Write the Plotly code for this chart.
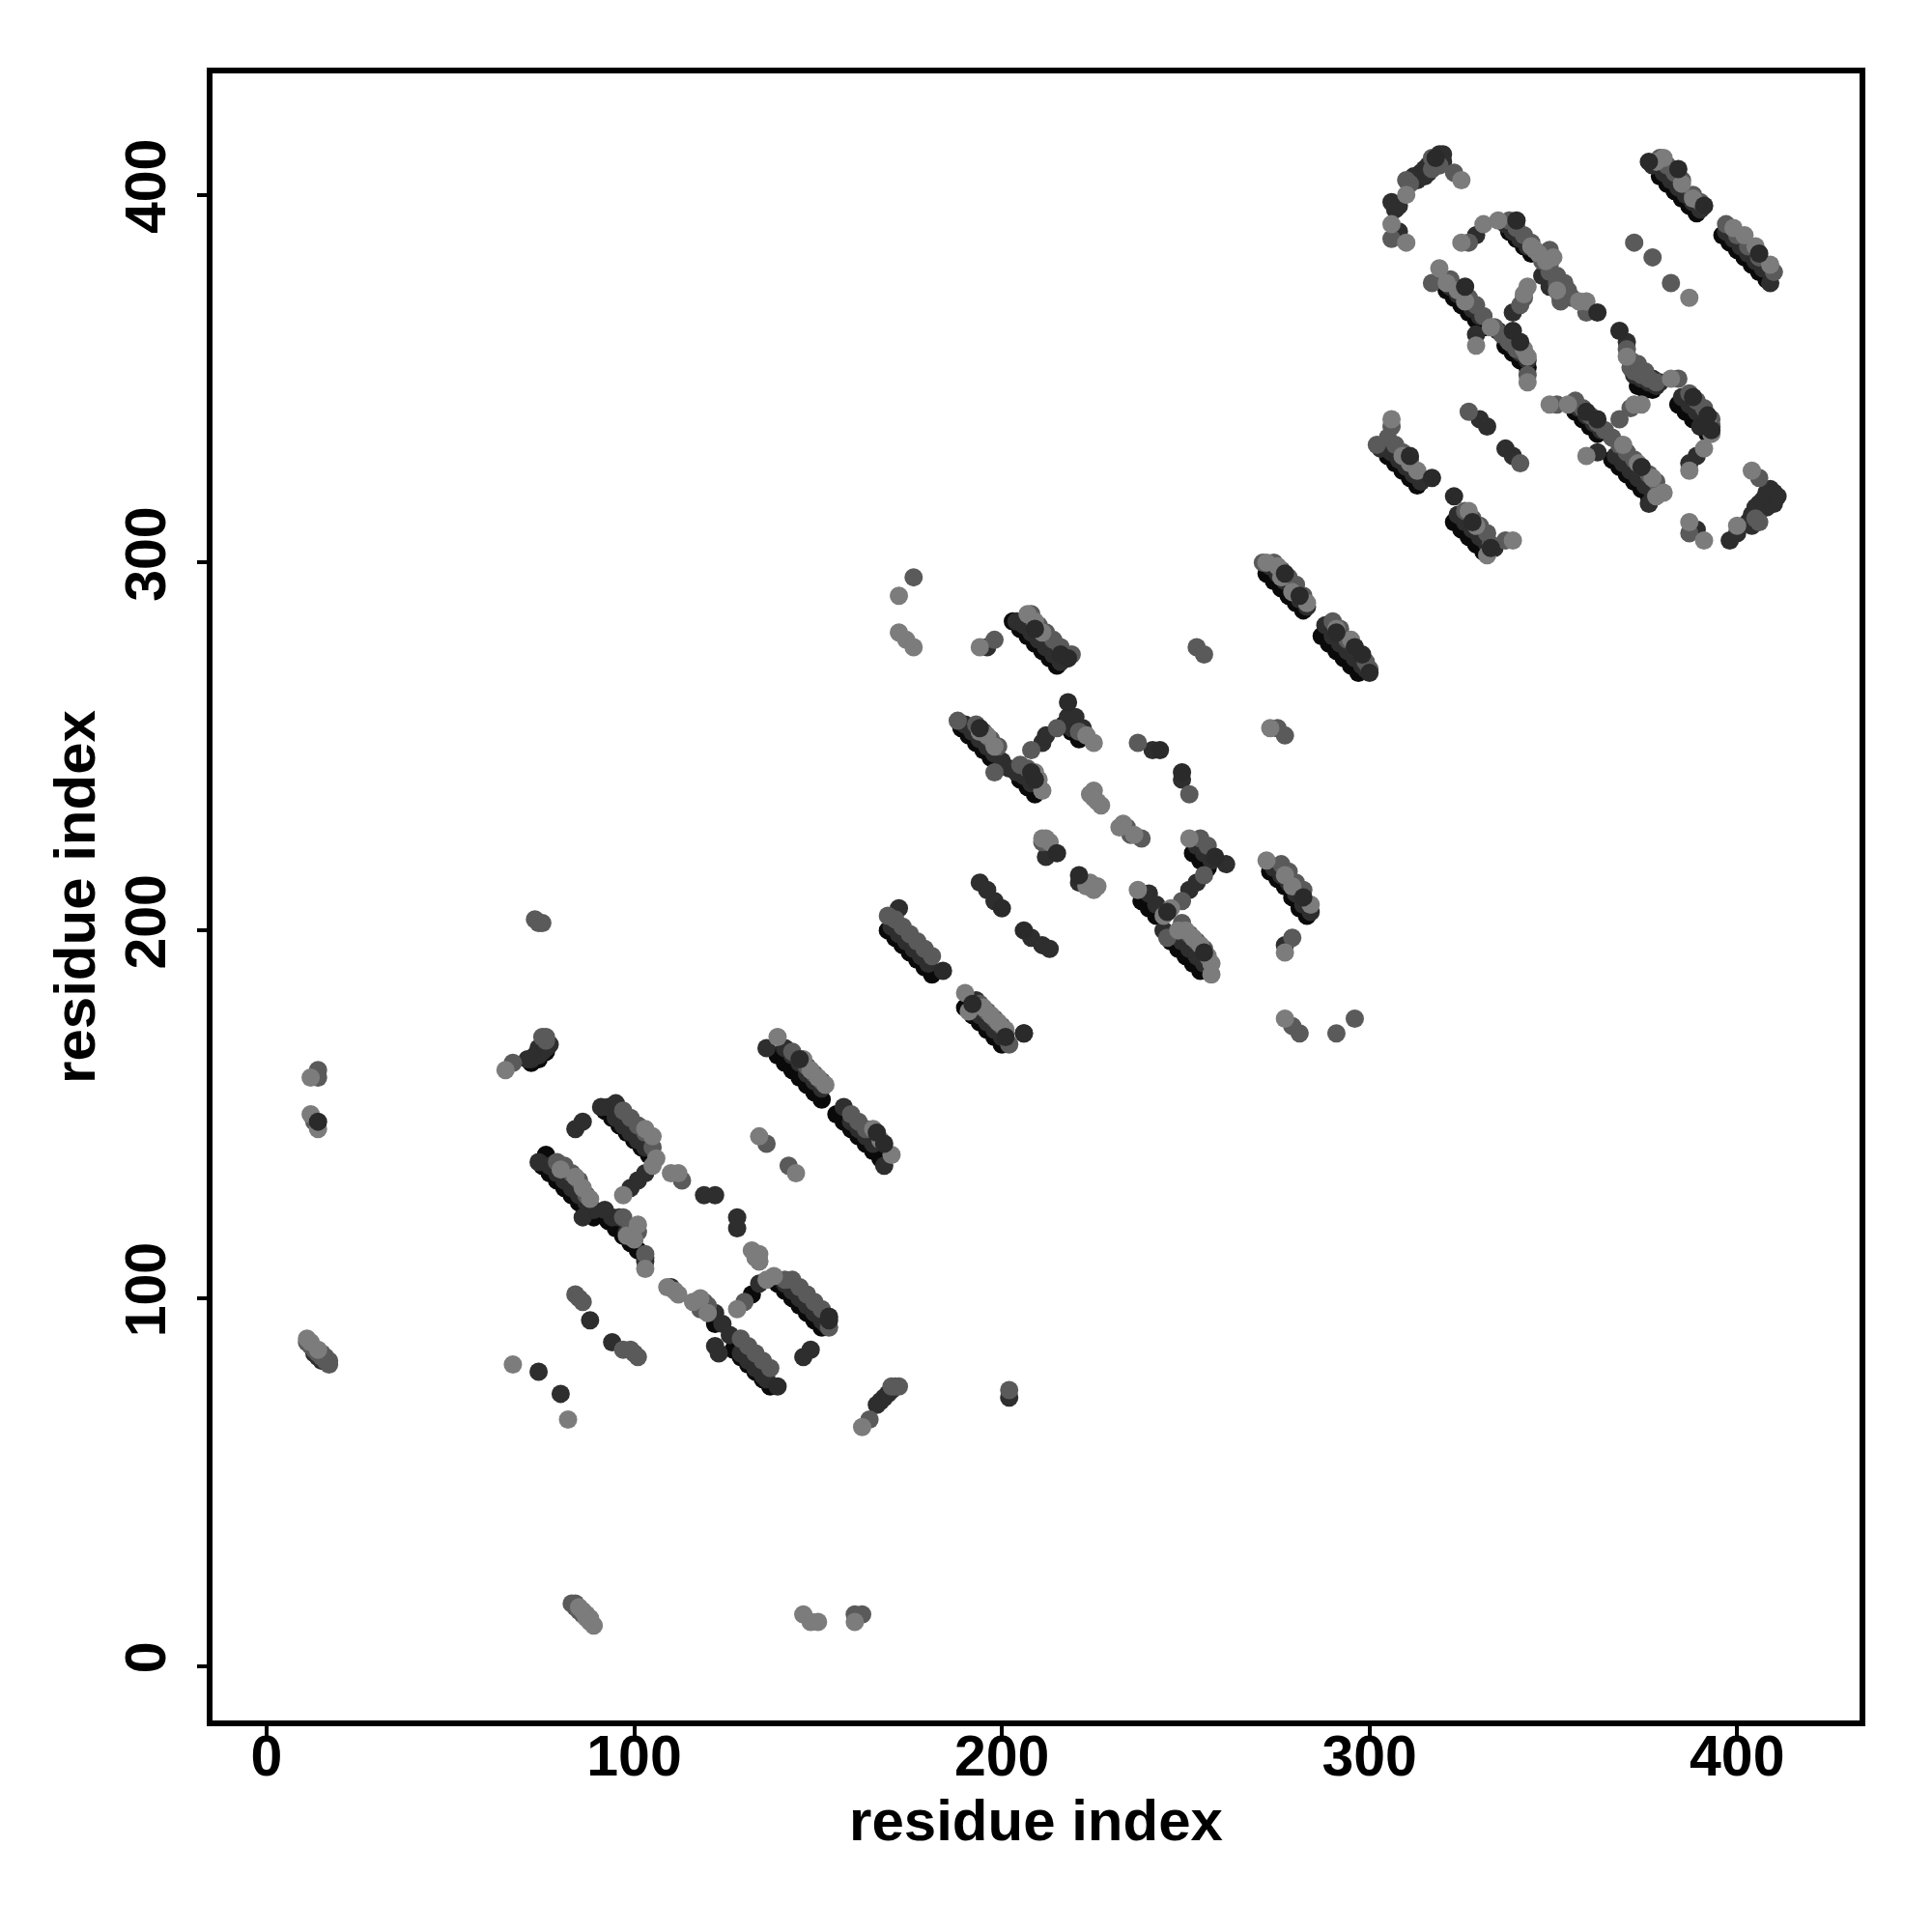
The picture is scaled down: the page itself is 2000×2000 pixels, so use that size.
import plotly.graph_objects as go

tick_values = [0, 100, 200, 300, 400]
axis_title = "residue index"

# contacts as (residue i, residue j), by shade
black_contacts = [
    (75,136),(77,134),(79,132),(81,130),(83,128),(85,126),(87,124),(89,122),(76,139),
    (91,123),(93,121),(95,119),(97,117),(99,115),(101,113),(103,111),
    (92,151),(94,149),(96,147),(98,145),(100,143),(102,141),(104,139),
    (127,86),(129,84),(131,82),(133,80),(135,78),(137,76),(122,93),(132,101),
    (139,104),(141,102),(143,100),(145,98),(147,96),(149,94),(151,92),
    (139,166),(141,164),(143,162),(145,160),(147,158),(149,156),(151,154),
    (155,150),(157,148),(159,146),(161,144),(163,142),(165,140),(167,138),
    (190,179),(192,177),(194,175),(196,173),(198,171),(200,169),
    (169,200),(171,198),(173,196),(175,194),(177,192),(179,190),(181,188),
    (203,284),(205,282),(207,280),(209,278),(211,276),(213,274),(215,272),
    (189,255),(191,253),(193,251),(195,249),(197,247),(199,245),
    (205,241),(207,239),(209,237),
    (217,256),(219,254),(221,252),
    (238,208),(240,206),(242,204),
    (246,197),(248,195),(250,193),(252,191),(254,189),
    (252,221),(254,219),(256,217),
    (273,216),(275,214),(277,212),(279,209),(281,206),(283,204),
    (272,297),(274,295),(276,293),(278,291),(280,289),(282,287),
    (287,280),(289,278),(291,276),(293,274),(295,272),(297,270),
    (305,329),(307,327),(309,325),(311,323),(313,321),
    (323,311),(325,309),(327,307),(329,305),(331,303),
    (356,341),(358,339),(360,337),(362,335),
    (366,328),(368,326),(370,324),(372,322),(374,320),(376,318),
    (384,343),(386,341),(388,339),(390,337),(392,335),
    (321,374),(323,372),(325,370),(327,368),(329,366),(331,364),
    (337,359),(339,357),(341,355),(343,353),
    (338,390),(340,388),(342,386),(344,384),
    (379,405),(381,403),(383,401),(385,399),(387,397),(389,395),
    (396,389),(398,387),(400,385),(402,383),(404,381),(406,379),(408,377),
    (72,164),(74,165),(76,167),(373,348),(375,347),(377,347),
]

dark_contacts = [
    (72,165),(73,166),(74,166),(75,167),(74,168),(76,168),(77,169),(71,165),(76,169),
    (74,137),(77,136),(79,134),(81,132),(83,130),(85,128),(87,126),(88,124),(89,124),(86,122),
    (92,124),(94,122),(96,122),(98,118),(100,116),(103,110),
    (91,152),(93,152),(95,153),(95,149),(97,147),(99,145),(101,143),(103,141),
    (84,146),(86,148),(13,85),(14,84),(15,83),
    (99,130),(101,132),(103,134),
    (119,128),(122,128),(128,122),(128,119),
    (110,103),(120,96),(122,96),(124,93),(126,90),
    (134,104),(129,85),(131,83),(133,81),(135,79),(122,87),(123,85),(136,78),
    (141,104),(143,102),(145,100),(147,98),(149,96),(151,94),(152,93),
    (146,84),(148,86),(88,94),(94,88),(74,80),(80,74),
    (166,71),(167,72),(168,73),(169,74),(170,75),(202,73),
    (136,168),(141,168),(143,166),(145,164),(147,161),(149,159),(151,157),
    (157,152),(159,148),(161,146),(163,144),(165,142),(168,136),
    (193,181),(192,179),(194,177),(196,175),(198,173),(200,171),(206,172),
    (170,201),(172,199),(174,197),(176,195),(178,193),(180,191),(172,206),
    (196,277),(204,284),(206,283),(208,281),(210,279),(212,277),(214,275),(216,273),(218,274),
    (190,256),(192,254),(194,252),(196,250),(198,248),(200,246),(202,244),(204,243),(206,242),(208,240),
    (211,251),(212,253),(218,258),(219,255),(220,258),(222,255),
    (241,249),(249,241),(212,220),(221,213),
    (194,213),(196,211),(198,208),(208,198),(211,196),(213,195),
    (240,210),(242,207),(244,200),(245,205),(247,199),(249,197),(251,195),(253,193),(255,191),
    (251,211),(253,213),(253,223),(255,221),(257,219),(261,218),
    (274,217),(276,215),(278,213),(280,210),(282,207),(284,205),(277,196),
    (273,299),(275,297),(277,295),(279,293),(281,290),(283,288),
    (288,283),(290,280),(292,278),(294,276),(296,274),(298,272),(299,271),
    (303,331),(306,330),(308,328),(310,326),(312,324),(314,322),
    (324,313),(326,311),(328,309),(330,307),(332,305),(334,304),
    (330,339),(332,337),(337,331),(339,329),
    (357,342),(359,340),(361,338),(363,336),(362,330),
    (367,329),(369,327),(371,325),(373,323),(375,321),(377,319),(376,316),
    (385,345),(387,343),(389,341),(391,339),(393,337),(389,329),(387,327),
    (322,375),(324,373),(326,371),(328,369),(330,367),(329,362),(339,368),
    (335,363),(337,361),(339,359),(341,357),(343,355),
    (329,389),(337,392),(339,390),(341,388),(343,386),
    (314,406),(315,407),(316,408),(316,406),(317,409),(318,408),(318,410),(319,409),(319,411),(319,410),(320,409),(320,411),
    (306,398),(307,396),(308,397),(308,390),(312,405),(313,404),(313,405),(315,405),
    (377,408),(380,406),(382,404),(384,402),(386,400),(388,398),(390,396),
    (397,390),(399,388),(401,386),(403,384),(405,382),(407,380),(409,376),
    (398,306),(400,308),(403,311),(404,310),(404,313),(405,315),(406,314),(406,316),(407,316),(407,317),
    (408,315),(408,318),(408,319),(409,317),(409,319),(409,320),(410,316),(410,318),(410,319),(411,318),
    (389,309),(347,378),(348,380),(349,378),(349,375),(350,376),(351,374),(352,372),
    (370,360),(372,351),(374,350),(376,349),(377,350),(378,348),(379,349),
]

mid_contacts = [
    (11,88),(12,87),(13,86),(14,85),(15,84),(16,83),(17,82),(17,83),(16,84),(15,85),
    (14,162),(14,160),(13,148),(73,203),(75,202),(74,202),(67,164),(76,170),(75,171),(76,171),
    (83,134),(85,132),(87,128),(81,136),(79,137),(97,122),(99,119),(103,112),(101,118),
    (97,151),(99,149),(101,147),(103,145),(105,141),
    (84,101),(85,100),(86,99),(97,86),(99,86),(101,84),(100,85),
    (113,132),(134,110),(119,99),(118,97),(120,98),
    (129,89),(131,87),(133,85),(135,83),(137,81),(130,99),
    (141,105),(143,105),(145,103),(147,101),(149,99),(151,97),(153,92),
    (164,67),(171,76),(172,76),(170,76),(202,75),
    (84,17),(84,16),(83,17),(85,15),(86,14),(160,14),(162,14),
    (143,167),(145,165),(147,163),(149,161),(151,159),
    (159,150),(161,148),(163,146),(136,142),(142,136),
    (194,180),(196,178),(198,176),(200,174),(202,169),
    (171,203),(173,201),(175,199),(177,197),(179,195),(181,193),(169,204),
    (176,296),(198,279),
    (208,286),(210,283),(212,281),(214,279),(216,277),(219,275),
    (188,257),(193,256),(195,254),(197,252),(199,250),(208,249),(215,255),(198,243),
    (205,245),(207,244),(209,242),(221,254),(223,253),(237,251),(251,237),
    (234,228),(211,224),(235,226),(238,225),
    (249,208),(255,215),(249,202),(251,199),(253,197),(255,195),(245,198),
    (254,225),(256,223),(279,198),(279,174),(281,172),(291,172),(296,176),
    (275,255),(277,253),(253,277),(255,275),
    (276,218),(278,216),(280,213),(282,211),
    (271,300),(274,300),(276,298),(278,296),(280,294),(282,291),
    (290,284),(292,282),(294,279),(296,277),(299,273),(300,271),
    (302,332),(305,334),(307,332),(309,330),(311,328),(306,337),
    (326,314),(328,312),(330,310),(332,308),(333,305),(337,306),
    (327,341),(341,327),(351,343),(368,339),(371,342),
    (356,344),(358,342),(360,340),(362,338),(364,336),
    (366,334),(368,332),(370,330),(372,328),(374,326),(376,324),(378,322),
    (384,350),(387,346),(389,344),(391,342),(393,339),(393,337),
    (317,376),(322,377),(325,374),(327,372),(329,370),(331,367),
    (334,364),(336,362),(338,360),(340,358),(342,357),(343,351),
    (341,370),(342,372),(327,387),(349,385),(349,379),(351,376),(352,374),(353,372),
    (351,378),(353,376),(354,374),(355,372),(352,371),(359,368),
    (338,393),(340,391),(342,389),(344,387),(347,382),(349,381),
    (372,387),(377,383),(382,376),
    (379,410),(381,408),(383,406),(385,404),(388,400),(390,398),(391,397),
    (397,392),(400,389),(403,386),(406,383),(410,379),
    (370,358),(372,352),(374,351),(376,350),(378,349),(371,353),(371,355),(373,354),(375,352),
    (310,404),(323,406),(311,403),(306,388),(406,323),(387,308),(405,312),(406,311),
    (317,407),(319,408),(317,410),
]

light_contacts = [
    (12,160),(12,150),(14,146),(65,162),(11,89),(12,88),(14,86),
    (80,135),(84,133),(86,130),(88,127),(98,117),(101,120),(103,108),(100,116),
    (105,144),(103,146),(106,138),(105,136),(97,128),
    (110,134),(112,134),(132,113),(134,112),(134,110),(133,111),
    (109,103),(112,101),(111,102),(116,99),(118,100),(128,97),(136,105),(138,106),(120,96),
    (67,82),(82,67),(162,65),
    (85,16),(86,15),(87,14),(88,13),(87,13),(88,12),(89,11),(146,14),(150,12),(148,12),(160,12),
    (134,144),(144,134),(139,171),(146,165),(148,162),(150,160),(152,158),
    (170,139),(167,143),(165,146),
    (190,183),(191,178),(195,179),(197,177),(199,175),(201,173),
    (172,291),(172,281),(174,279),(176,277),(194,277),
    (207,286),(209,284),(211,281),
    (194,254),(196,253),(198,250),(211,238),(225,251),(223,253),
    (209,243),(210,241),
    (225,238),(224,237),(225,236),(226,235),(227,234),(232,228),(233,229),(236,226),
    (211,225),(213,224),(212,225),(224,213),(225,211),(223,212),(226,212),
    (237,211),(244,204),(246,206),(248,200),(250,200),(252,198),(254,196),(256,193),(257,191),(257,188),
    (251,225),(272,219),(277,194),(277,176),(273,255),
    (277,215),(279,212),(284,207),
    (272,300),(275,299),(276,296),(279,292),(283,289),
    (291,282),(295,279),(306,339),(309,329),(311,327),(313,325),
    (327,314),(329,310),(339,306),(332,302),
    (349,343),(354,343),(359,329),(372,343),(374,343),(369,332),(373,327),(377,323),(380,319),(378,318),
    (382,350),(392,339),(393,335),(391,331),(387,325),
    (319,380),(321,376),(324,374),(326,371),(329,359),(333,364),(343,349),(342,358),(343,356),
    (343,375),(342,373),(348,382),(351,374),(350,383),
    (331,392),(325,387),(335,393),(345,385),(346,384),(344,386),
    (387,372),(359,371),(357,371),(370,356),
    (310,400),(325,404),(306,392),(310,387),
    (380,410),(385,403),(388,399),(399,391),(402,389),(405,386),(409,381),
    (387,311),(391,306),(400,310),(404,325),(378,409),
]

top_contacts = [
    (139,76),(153,94),(153,95),(206,172),(201,171),(184,189),(218,262),(243,249),(249,243),
    (215,221),(221,215),(200,206),(206,200),(258,220),(218,274),(300,270),(317,323),
    (323,318),(362,368),(376,409),(390,337),(318,410),(393,336),(14,148),(368,363),
    (145,165),(166,145),(168,142),(192,180),(209,282),(216,275),(194,255),(208,243),(209,241),
    (245,205),(255,194),(282,209),(277,297),(281,291),(291,281),(296,277),(298,275),
    (311,329),(328,311),(333,304),(359,341),(362,339),(374,326),(388,345),(392,340),
    (326,375),(339,363),(341,360),(340,393),(384,407),(391,397),(406,384),
]

def xs(points):
    return [p[0] for p in points]

def ys(points):
    return [p[1] for p in points]

fig = go.Figure()
for points, colour in [(black_contacts, "#0a0a0a"), (dark_contacts, "#2e2e2e"),
                       (mid_contacts, "#5a5a5a"), (light_contacts, "#7c7c7c"),
                       (top_contacts, "#2a2a2a")]:
    fig.add_trace(go.Scatter(x=xs(points), y=ys(points), mode="markers",
                             marker=dict(color=colour, size=19, line=dict(width=0)),
                             showlegend=False, cliponaxis=False))

axis_common = dict(
    tickmode="array", tickvals=tick_values, ticktext=[str(v) for v in tick_values],
    showgrid=False, zeroline=False,
    showline=True, mirror=True, linecolor="black", linewidth=6,
    ticks="outside", ticklen=10, tickwidth=4, tickcolor="black",
    tickfont=dict(family="Liberation Sans", size=59, color="black", weight="bold"),
)
fig.update_layout(
    width=1984, height=1984, autosize=False,
    paper_bgcolor="white", plot_bgcolor="white",
    margin=dict(l=211.5, r=67, t=67.7, b=211.3, autoexpand=False),
    font=dict(family="Liberation Sans", color="black"),
)
fig.update_xaxes(**axis_common, range=[-14.7, 433.3], ticklabelstandoff=-30,
                 title=dict(text=axis_title, font=dict(size=60, weight="bold"), standoff=14))
fig.update_yaxes(**axis_common, range=[-14.8, 433.0], tickangle=-90, ticklabelstandoff=9,
                 title=dict(text=axis_title, font=dict(size=60, weight="bold"), standoff=2))
fig.write_html("out.html")
